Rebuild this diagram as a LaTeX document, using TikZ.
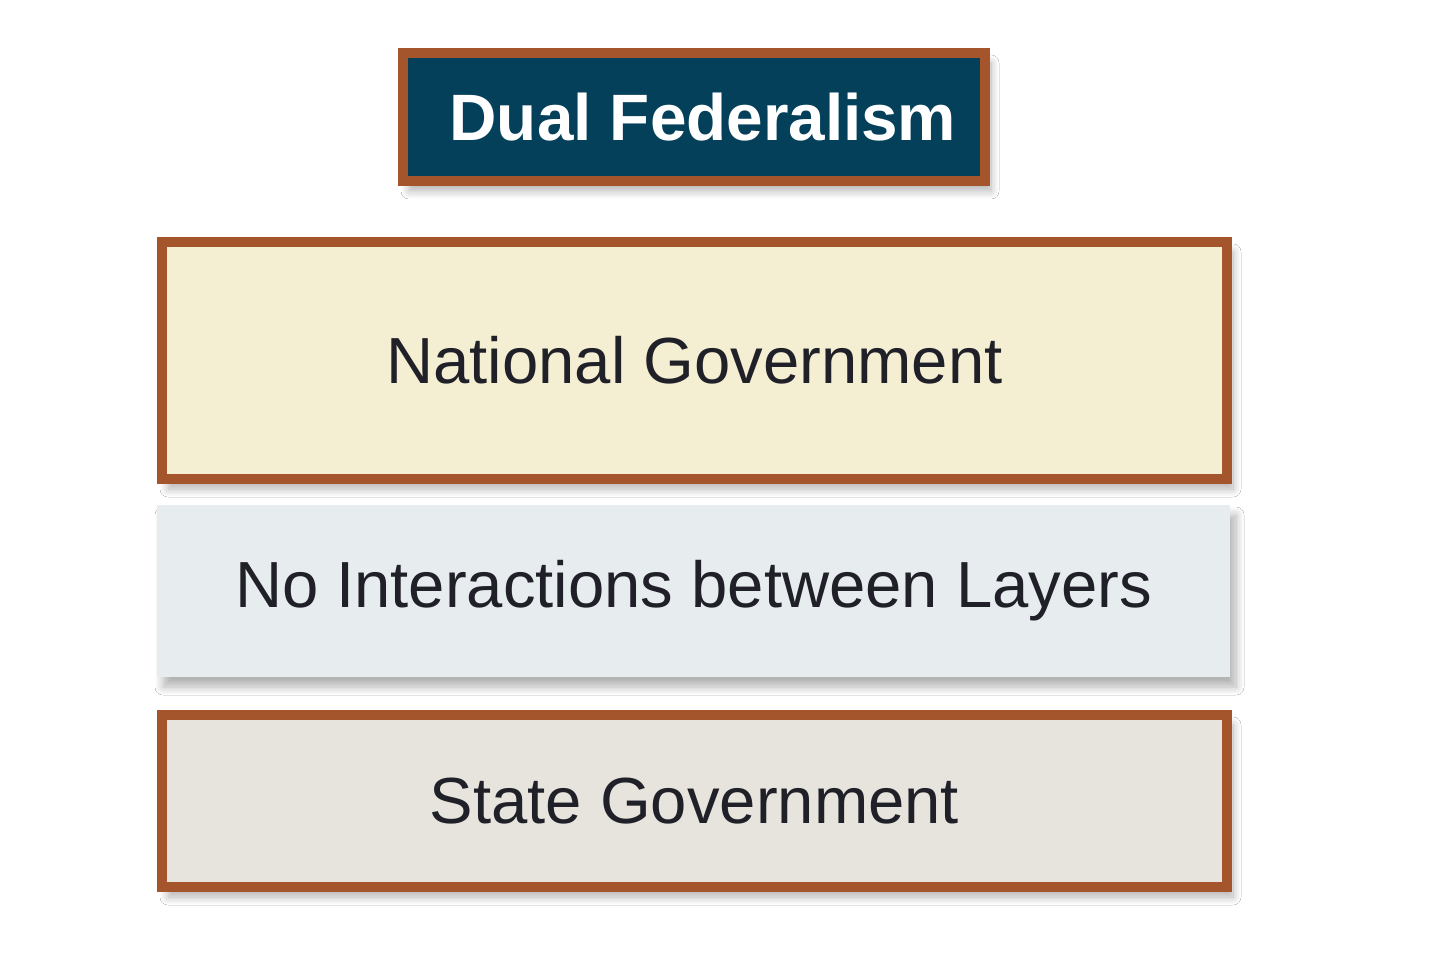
\documentclass[tikz,border=0pt]{standalone}
\usepackage{fontspec}
\setmainfont{Liberation Sans}
\usetikzlibrary{shadows.blur}
\definecolor{brd}{HTML}{A5552C}
\definecolor{titlefill}{HTML}{04405A}
\definecolor{natfill}{HTML}{F4EFD3}
\definecolor{midfill}{HTML}{E7ECEF}
\definecolor{statefill}{HTML}{E7E4DD}
\definecolor{txt}{HTML}{202028}
\tikzset{
  layer/.style={rectangle, inner sep=0pt, font=\fontsize{32.6}{36}\selectfont, text=txt,
    blur shadow={shadow xshift=3pt, shadow yshift=-5pt, shadow blur radius=4pt,
      shadow blur steps=12, shadow opacity=30}},
  framed/.style={layer, draw=brd, line width=5pt},
}
\begin{document}
\begin{tikzpicture}[x=0.5pt,y=-0.5pt]
\useasboundingbox[fill=white] (0,0) rectangle (1440,977);
\node[framed, fill=titlefill, text=white, font=\fontsize{32.8}{36}\selectfont\bfseries,
  minimum width=291pt, minimum height=64pt] (title) at (694,117) {\hspace*{9pt}Dual Federalism};
\node[framed, fill=natfill, minimum width=532.5pt, minimum height=118.5pt] (nat) at (694.5,360.5) {National Government};
\node[layer, fill=midfill, minimum width=536.5pt, minimum height=86pt] (mid) at (693.5,591) {No Interactions between Layers};
\node[framed, fill=statefill, minimum width=532.5pt, minimum height=86pt] (state) at (694.5,801) {State Government};
\end{tikzpicture}
\end{document}
